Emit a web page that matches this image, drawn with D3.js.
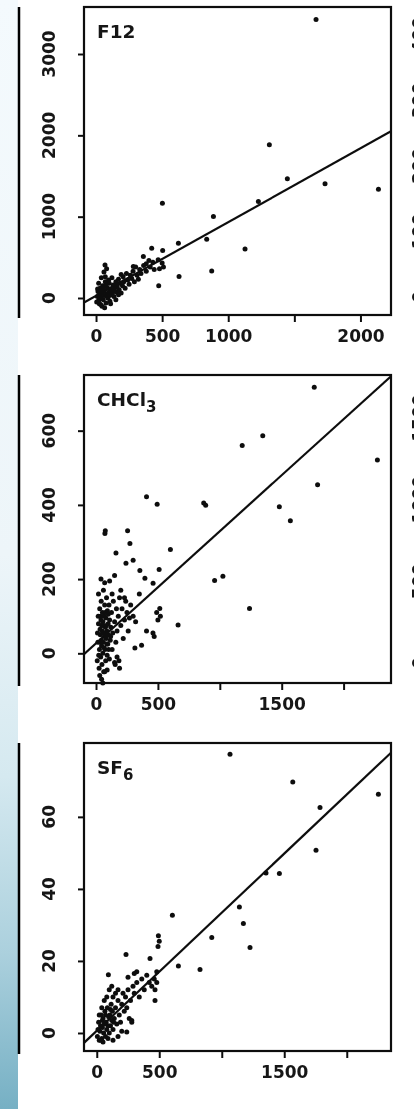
<!DOCTYPE html>
<html>
<head>
<meta charset="utf-8">
<script src="https://cdn.jsdelivr.net/npm/d3@7"></script>
<style>
body { margin: 0; background: #fff; }
svg { display: block; }
text { font-family: "DejaVu Sans", sans-serif; fill: #151515; }
</style>
</head>
<body>
<div id="chart"></div>
<script>
// panel titles (main part + subscript)
const panelNames = ["F12", "CHCl", "SF"];
const panelSubs = ["", "3", "6"];

// axis limits
const xDomains = [[-91, 2231], [-97, 2383], [-102, 2354]];
const yDomains = [[-209, 3578], [-80, 750], [-5, 80.5]];

// ticks and which of them carry a label
const xTicks = [0, 500, 1000, 1500, 2000];
const xTickLabels = [[0, 500, 1000, 2000], [0, 500, 1500], [0, 500, 1500]];
const yTicks = [[0, 1000, 2000, 3000], [0, 200, 400, 600], [0, 20, 40, 60]];

// fitted lines
const fitIntercepts = [26, 27, 0.6];
const fitSlopes = [0.907, 0.302, 0.0328];

// F12
const f12Points = [
  [1664, 3424], [1311, 1884], [1447, 1466], [1732, 1404], [2136, 1338], [502, 1166],
  [888, 1001], [1127, 603], [875, 332], [628, 263], [474, 152], [1228, 1186],
  [837, 722], [623, 673], [421, 612], [504, 583], [358, 509], [68, 406], [282, 386],
  [400, 460], [430, 440], [470, 470], [500, 430], [510, 380], [480, 360], [440, 350],
  [410, 380], [380, 420],
  [5, -50], [10, 20], [15, 80], [20, -30], [25, 40], [30, 120], [35, -80], [40, 10],
  [45, 60], [50, 150], [55, -20], [60, 90], [65, 30], [70, 200], [75, -60], [80, 50],
  [85, 130], [90, 0], [95, 70], [100, 180], [105, -40], [110, 110], [115, 40], [120, 250],
  [125, 90], [130, 160], [135, 20], [140, 120], [150, 200], [155, 70], [160, 140], [170, 230],
  [175, 100], [180, 180], [190, 60], [200, 150], [205, 260], [210, 200], [220, 120], [230, 300],
  [240, 220], [250, 170], [260, 280], [270, 240], [280, 330], [290, 200], [300, 380], [310, 280],
  [320, 230], [330, 350], [340, 300], [360, 400], [380, 330], [60, 320], [40, 250], [80, 360],
  [20, 180], [45, -100], [65, -120], [30, -10], [55, 100], [75, 170], [95, 220], [110, -70],
  [12, 110], [150, -20], [170, 40], [190, 290], [35, 70], [85, 20], [120, 60], [145, 80],
  [60, 140], [100, 30], [25, -70], [70, 260]
];

// CHCl3
const chcl3Points = [
  [1763, 717], [1347, 586], [1181, 560], [2273, 521], [1790, 454], [886, 399], [870, 405],
  [408, 422], [494, 402], [1481, 395], [1570, 357], [72, 323], [75, 330], [255, 330],
  [274, 296], [161, 270], [242, 243], [300, 251], [601, 280], [510, 226], [354, 223],
  [395, 202], [461, 189], [958, 196], [1025, 208], [1240, 121], [663, 76], [515, 121],
  [490, 110], [520, 100], [500, 90], [408, 60], [460, 55], [470, 45], [314, 14], [368, 22],
  [170, -10], [150, -25], [70, -50],
  [10, -20], [15, 30], [20, 80], [25, -40], [28, 10], [30, 120], [35, 50], [38, -10],
  [40, 90], [42, 140], [45, 20], [48, -30], [50, 60], [52, 110], [55, 0], [58, 75],
  [60, 30], [62, -50], [65, 100], [68, 45], [70, 130], [72, 10], [75, 70], [78, -20],
  [80, 95], [82, 40], [85, 150], [88, 60], [90, -5], [92, 115], [95, 25], [98, 80],
  [100, 50], [105, 130], [108, -15], [110, 90], [115, 35], [120, 70], [125, 110], [130, 10],
  [135, 55], [140, 140], [150, 85], [155, -30], [160, 30], [165, 120], [170, 60], [180, 100],
  [185, -20], [190, 150], [200, 75], [210, 120], [220, 40], [230, 90], [240, 140], [250, 110],
  [260, 60], [270, 95], [280, 130], [300, 100], [320, 85], [350, 160], [40, 200], [70, 190],
  [110, 195], [60, 170], [150, 210], [30, -60], [45, -70], [90, -45], [190, -40], [130, 160],
  [200, 170], [230, 150], [12, 55], [18, 100], [22, -5], [33, 65], [44, 35], [56, 85],
  [66, 15], [77, 50], [88, 25], [99, 105], [20, 160], [55, -80], [32, 30], [46, 75],
  [64, 55], [84, 75], [102, 10], [118, 45], [36, 100], [74, 110]
];

// SF6
const sf6Points = [
  [1066, 77.4], [1568, 69.7], [2253, 66.3], [1786, 62.6], [1754, 50.7], [1461, 44.3],
  [1354, 44.4], [1141, 35], [1173, 30.4], [1226, 23.7], [920, 26.5], [826, 17.6],
  [605, 32.7], [653, 18.6], [493, 27], [500, 25.5], [490, 24], [234, 21.8], [426, 20.7],
  [93, 16.2], [250, 15.5], [300, 16.5], [320, 17], [466, 9], [240, 0.3], [280, 3.5],
  [130, 10], [170, 12], [466, 12], [480, 14],
  [5, -1], [10, 1], [15, 3], [20, -2], [25, 0.5], [30, 2], [35, 5], [40, -1.5], [45, 1.5],
  [50, 4], [55, 0], [60, 2.5], [65, 6], [70, -1], [75, 3], [80, 1], [85, 7], [90, 2],
  [95, 4.5], [100, 0], [105, 5], [110, 2], [115, 8], [120, 3.5], [125, 6], [130, 1],
  [140, 4], [150, 7], [160, 2.5], [170, 9], [180, 5], [190, 3], [200, 8], [210, 11],
  [220, 6], [230, 10], [240, 7], [250, 12], [270, 9], [290, 13], [300, 11], [320, 14],
  [340, 10], [360, 15], [380, 12], [400, 16], [420, 14], [440, 13], [460, 15], [480, 17],
  [20, 5], [40, 7], [60, 9], [80, 10], [100, 12], [120, 13], [150, 11], [30, -2],
  [50, -2.5], [90, -1.5], [130, -2], [170, -1], [200, 0.5], [260, 4], [280, 3],
  [45, 3.5], [70, 5], [110, 6.5], [135, 3]
];

// cut-off y labels of the neighbouring column (only a sliver is visible)
const neighbourLabels = [["0", "100", "200", "300", "400"], ["0", "500", "1000", "1500"], []];
const neighbourTicks = [[0, 100, 200, 300, 400], [0, 500, 1000, 1500], []];
const neighbourDomains = [[-27.5, 442.7], [-122, 1764], [0, 1]];

const allPoints = [f12Points, chcl3Points, sf6Points];

const W = 414, H = 1109;
const frameLeft = 84, frameW = 307, frameH = 308;
const frameTops = [7, 375, 743];

const svg = d3.select("#chart").append("svg")
  .attr("width", W)
  .attr("height", H);

const defs = svg.append("defs");
const grad = defs.append("linearGradient")
  .attr("id", "strip")
  .attr("x1", 0).attr("y1", 0).attr("x2", 0).attr("y2", 1);
[["0", "#f4fafd"], ["0.5", "#edf5f9"], ["0.7", "#d5e9f0"], ["0.86", "#abd0dd"], ["1", "#76b0c4"]]
  .forEach(s => grad.append("stop").attr("offset", s[0]).attr("stop-color", s[1]));

defs.append("filter").attr("id", "soft")
  .append("feGaussianBlur").attr("stdDeviation", 0.55);

// left strip
svg.append("rect")
  .attr("x", 0).attr("y", 0)
  .attr("width", 18).attr("height", H)
  .attr("fill", "url(#strip)");

const g = svg.append("g").attr("filter", "url(#soft)");

allPoints.forEach((pts, i) => {
  const top = frameTops[i];
  const x = d3.scaleLinear().domain(xDomains[i]).range([frameLeft, frameLeft + frameW]);
  const y = d3.scaleLinear().domain(yDomains[i]).range([top + frameH, top]);

  // black rule of the page strip
  g.append("line")
    .attr("x1", 19).attr("x2", 19)
    .attr("y1", top).attr("y2", top + frameH + 3)
    .attr("stroke", "#000").attr("stroke-width", 2.5);

  const clipId = "clip" + i;
  defs.append("clipPath").attr("id", clipId)
    .append("rect")
    .attr("x", frameLeft).attr("y", top)
    .attr("width", frameW).attr("height", frameH);

  // points
  g.append("g").selectAll("circle")
    .data(pts)
    .enter().append("circle")
    .attr("cx", d => x(d[0]))
    .attr("cy", d => y(d[1]))
    .attr("r", 2.5)
    .attr("fill", "#111");

  // fitted line
  const xd = xDomains[i];
  g.append("line")
    .attr("clip-path", `url(#${clipId})`)
    .attr("x1", x(xd[0])).attr("y1", y(fitIntercepts[i] + fitSlopes[i] * xd[0]))
    .attr("x2", x(xd[1])).attr("y2", y(fitIntercepts[i] + fitSlopes[i] * xd[1]))
    .attr("stroke", "#111").attr("stroke-width", 2.2);

  // frame
  g.append("rect")
    .attr("x", frameLeft).attr("y", top)
    .attr("width", frameW).attr("height", frameH)
    .attr("fill", "none").attr("stroke", "#111").attr("stroke-width", 2.2);

  // x axis
  const xAxis = g.append("g")
    .attr("transform", `translate(0,${top + frameH})`)
    .call(d3.axisBottom(x).tickValues(xTicks).tickSize(7).tickPadding(8)
      .tickFormat(d => xTickLabels[i].includes(d) ? d : ""));
  xAxis.select(".domain").remove();
  xAxis.selectAll("line").attr("stroke", "#111").attr("stroke-width", 2);
  xAxis.selectAll("text")
    .attr("font-size", 17)
    .attr("font-weight", "bold")
    .attr("fill", "#151515")
    .attr("font-family", "DejaVu Sans");

  // y axis, labels turned
  const yAxis = g.append("g")
    .attr("transform", `translate(${frameLeft},0)`)
    .call(d3.axisLeft(y).tickValues(yTicks[i]).tickSize(6).tickFormat(""));
  yAxis.select(".domain").remove();
  yAxis.selectAll("line").attr("stroke", "#111").attr("stroke-width", 2);

  g.append("g").selectAll("text")
    .data(yTicks[i])
    .enter().append("text")
    .attr("transform", d => `translate(55,${y(d)}) rotate(-90)`)
    .attr("text-anchor", "middle")
    .attr("font-size", 17)
    .attr("font-weight", "bold")
    .text(d => d);

  // neighbour column labels, cut by the page edge
  const yn = d3.scaleLinear().domain(neighbourDomains[i]).range([top + frameH, top]);
  g.append("g").selectAll("text")
    .data(neighbourLabels[i])
    .enter().append("text")
    .attr("transform", (d, j) => `translate(425,${yn(neighbourTicks[i][j])}) rotate(-90)`)
    .attr("text-anchor", "middle")
    .attr("font-size", 17)
    .attr("font-weight", "bold")
    .text(d => d);

  // panel title
  const title = g.append("text")
    .attr("x", 97)
    .attr("y", top + 31)
    .attr("font-size", 18.5)
    .attr("font-weight", "bold");
  title.append("tspan").text(panelNames[i]);
  if (panelSubs[i]) {
    title.append("tspan")
      .attr("dy", 6)
      .attr("font-size", 15)
      .text(panelSubs[i]);
  }
});
</script>
</body>
</html>
